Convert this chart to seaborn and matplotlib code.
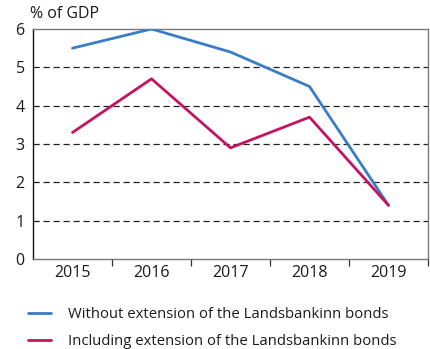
import matplotlib
matplotlib.use("Agg")
import matplotlib.pyplot as plt
import seaborn as sns
import pandas as pd
from matplotlib.ticker import FixedLocator

years = ["2015", "2016", "2017", "2018", "2019"]
without_ext = [5.5, 6.0, 5.4, 4.5, 1.4]
including_ext = [3.3, 4.7, 2.9, 3.7, 1.4]
series_names = ["Without extension of the Landsbankinn bonds",
                "Including extension of the Landsbankinn bonds"]
y_ticks = [0, 1, 2, 3, 4, 5, 6]

sns.set_theme(style="white")
plt.rcParams["font.family"] = ["Open Sans", "DejaVu Sans"]

df = pd.DataFrame({
    "pos": list(range(len(years))) * 2,
    "value": without_ext + including_ext,
    "series": [series_names[0]] * len(years) + [series_names[1]] * len(years),
})

palette = {series_names[0]: "#3a7dc6", series_names[1]: "#c5145f"}

fig = plt.figure(figsize=(4.30, 3.49), dpi=100)
ax = fig.add_axes([33 / 430, 1 - 259 / 349, 395 / 430, 230 / 349])

sns.lineplot(data=df, x="pos", y="value", hue="series", palette=palette,
             linewidth=2.0, ax=ax, legend=False, zorder=3)

ax.set_xlim(-0.5, len(years) - 0.5)
ax.set_ylim(0, 6)
ax.set_xlabel("")
ax.set_ylabel("")

ax.set_xticks(range(len(years)))
ax.set_xticklabels(years, fontsize=11.5, color="#1a1a1a")
ax.xaxis.set_minor_locator(FixedLocator([i + 0.5 for i in range(len(years))]))
ax.tick_params(axis="x", which="major", length=0, pad=4)
ax.tick_params(axis="x", which="minor", length=5, width=0.9, color="#333333",
               direction="out", bottom=True)
ax.set_yticks(y_ticks)
ax.set_yticklabels([str(t) for t in y_ticks], fontsize=11.5, color="#1a1a1a")
ax.tick_params(axis="y", length=0, pad=6)

for t in y_ticks[1:-1]:
    ax.axhline(t, color="#222222", linewidth=0.9, linestyle=(0, (5, 3)), zorder=1)

ax.spines["left"].set_color("#111111")
ax.spines["left"].set_linewidth(1.0)
for side in ["top", "right", "bottom"]:
    ax.spines[side].set_color("#777777")
    ax.spines[side].set_linewidth(1.0)

fig.text(30 / 430, 1 - 14 / 349, "% of GDP", fontsize=11.5, color="#1a1a1a",
         ha="left", va="center")

handles = [plt.Line2D([], [], color=palette[n], linewidth=2.0) for n in series_names]
fig.legend(handles, series_names, loc="upper left",
           bbox_to_anchor=(15 / 430, 1 - 294 / 349), frameon=False,
           fontsize=10.7, handlelength=1.5, handletextpad=1.2,
           labelspacing=0.8, labelcolor="#1a1a1a")

fig.savefig("out.png", dpi=100)
